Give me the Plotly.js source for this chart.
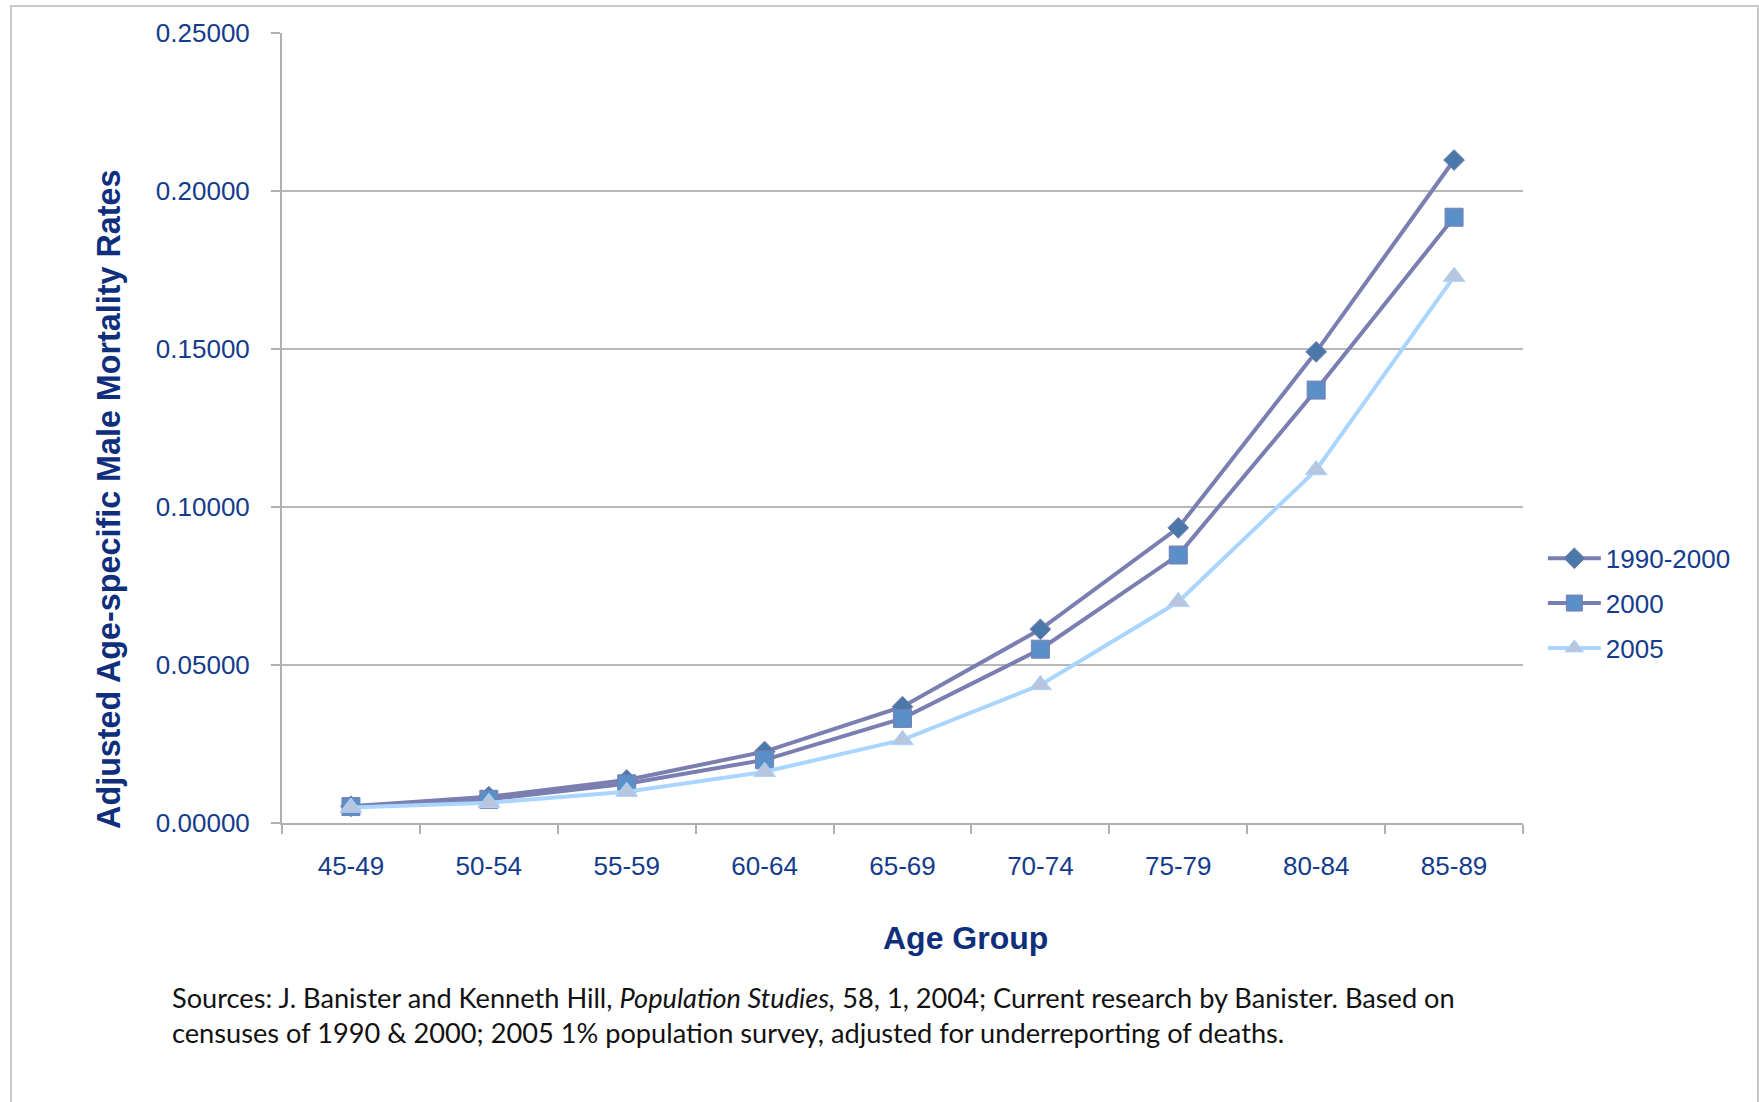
<!DOCTYPE html>
<html>
<head>
<meta charset="utf-8">
<script src="https://cdn.plot.ly/plotly-3.0.1.min.js"></script>
<style>
  html, body { margin: 0; padding: 0; background: #ffffff; }
  #wrap { position: relative; width: 1759px; height: 1102px; overflow: hidden; }
  #chart { position: absolute; left: 0; top: 0; width: 1759px; height: 1102px; }
  #frame { position: absolute; left: 10px; top: 5px; width: 1745px; height: 1120px;
           border: 2px solid #c9c9c9; pointer-events: none; }
</style>
</head>
<body>
<div id="wrap">
  <div id="chart"></div>
  <div id="frame"></div>
</div>
<script>
// ---- data ----
const ageGroups = ["45-49", "50-54", "55-59", "60-64", "65-69", "70-74", "75-79", "80-84", "85-89"];
const rates1990_2000 = [0.0053, 0.0083, 0.0136, 0.0226, 0.0368, 0.0613, 0.0934, 0.1491, 0.2098];
const rates2000      = [0.0052, 0.0075, 0.0124, 0.0200, 0.0331, 0.0550, 0.0848, 0.1370, 0.1917];
const rates2005      = [0.0049, 0.0064, 0.0099, 0.0162, 0.0263, 0.0437, 0.0700, 0.1117, 0.1729];
const seriesNames = ["1990-2000", "2000", "2005"];
const yTickValues = [0, 0.05, 0.10, 0.15, 0.20, 0.25];
const xTitle = "Age Group";
const yTitle = "Adjusted Age-specific Male Mortality Rates";
const sourceNote = "Sources: J. Banister and Kenneth Hill, <i>Population Studies,</i> 58, 1, 2004; Current research by Banister. Based on<br>censuses of 1990 &amp; 2000; 2005 1% population survey, adjusted for underreporting of deaths.";

const labelBlue = "#143b8c";
const titleBlue = "#0f2f7c";
const axisFont = "Liberation Sans, Arial, Helvetica, sans-serif";

const traces = [
  {
    x: ageGroups, y: rates1990_2000, name: seriesNames[0], legendgroup: "a",
    type: "scatter", mode: "lines+markers",
    line: { color: "#7a7eb0", width: 4 },
    marker: { symbol: "diamond", size: 16, color: "#4a78a9", line: { color: "#7a7eb0", width: 1 } }
  },
  {
    x: ageGroups, y: rates2000, name: seriesNames[1], legendgroup: "b",
    type: "scatter", mode: "lines+markers",
    line: { color: "#7a7eb0", width: 4 },
    marker: { symbol: "square", size: 18, color: "#5b8fc7", line: { color: "#7a7eb0", width: 1 } }
  },
  {
    x: ageGroups, y: rates2005, name: seriesNames[2], legendgroup: "c",
    type: "scatter", mode: "lines+markers",
    line: { color: "#a9d5ff", width: 4 },
    marker: { symbol: "triangle-up", size: 19, color: "#b7c5de", line: { color: "#a9d5ff", width: 1 } }
  }
];

const layout = {
  width: 1759, height: 1102,
  margin: { l: 282, r: 236, t: 33, b: 279 },
  paper_bgcolor: "rgba(0,0,0,0)",
  plot_bgcolor: "#ffffff",
  showlegend: true,
  font: { family: axisFont, color: labelBlue },
  xaxis: {
    type: "category",
    range: [-0.5, 8.5],
    tickson: "boundaries",
    ticks: "outside", ticklen: 9, tickwidth: 2, tickcolor: "#b0b0b0",
    showline: true, linecolor: "#b0b0b0", linewidth: 2,
    showgrid: false, zeroline: false,
    tickfont: { family: axisFont, size: 26, color: labelBlue },
    ticklabelstandoff: 19
  },
  yaxis: {
    range: [0, 0.25],
    tickvals: yTickValues,
    tickformat: ".5f",
    ticks: "outside", ticklen: 9, tickwidth: 2, tickcolor: "#b0b0b0",
    showline: true, linecolor: "#b0b0b0", linewidth: 2,
    showgrid: true, gridcolor: "#b8b8b8", gridwidth: 2,
    zeroline: false,
    tickfont: { family: axisFont, size: 26, color: labelBlue },
    ticklabelstandoff: 16
  },
  legend: {
    x: 1.016, xanchor: "left",
    y: 0.278, yanchor: "middle",
    font: { family: axisFont, size: 26, color: labelBlue },
    bgcolor: "rgba(0,0,0,0)", borderwidth: 0,
    traceorder: "grouped", tracegroupgap: 8,
    itemwidth: 53
  },
  annotations: [
    {
      xref: "paper", yref: "paper",
      x: 0.551, y: -0.1456, xanchor: "center", yanchor: "middle",
      showarrow: false,
      text: "<b>" + xTitle + "</b>",
      font: { family: axisFont, size: 32, color: titleBlue }
    },
    {
      xref: "paper", yref: "paper",
      x: -0.1394, y: 0.409, xanchor: "center", yanchor: "middle",
      textangle: -90, showarrow: false,
      text: "<b>" + yTitle + "</b>",
      font: { family: axisFont, size: 32.3, color: titleBlue }
    },
    {
      xref: "paper", yref: "paper",
      x: -0.0905, y: -0.197,
      xanchor: "left", yanchor: "top", align: "left",
      showarrow: false,
      text: sourceNote,
      font: { family: "Lato, Open Sans, sans-serif", size: 27.2, color: "#111111" }
    }
  ]
};

Plotly.newPlot("chart", traces, layout, { displayModeBar: false, staticPlot: true });
</script>
</body>
</html>
